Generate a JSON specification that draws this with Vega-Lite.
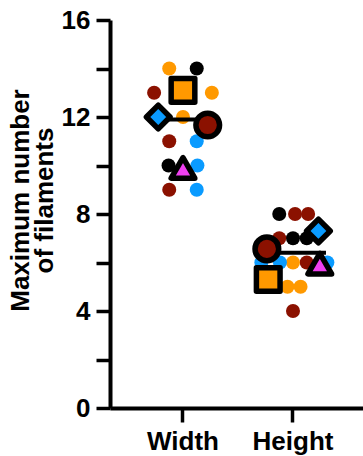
{
  "$schema": "https://vega.github.io/schema/vega-lite/v6.json",
  "width": 253,
  "height": 388,
  "autosize": {"type": "none"},
  "padding": {"left": 110, "top": 20, "right": 0, "bottom": 48},
  "background": "white",
  "config": {
    "view": {"stroke": null},
    "font": "Liberation Sans",
    "axis": {
      "domainColor": "black", "domainWidth": 4, "tickColor": "black", "tickWidth": 3.5,
      "tickSize": 14, "labelFont": "Liberation Sans", "labelFontWeight": "bold", "labelFontSize": 26,
      "labelColor": "black", "titleFont": "Liberation Sans", "titleFontWeight": "bold",
      "titleFontSize": 26, "titleColor": "black", "grid": false
    }
  },
  "datasets": {
    "dots": [
      {"cond": "Width", "rep": "A", "value": 14, "dx": -1},
      {"cond": "Width", "rep": "A", "value": 13, "dx": 2.1},
      {"cond": "Width", "rep": "A", "value": 12, "dx": 0},
      {"cond": "Width", "rep": "B", "value": 14, "dx": 1},
      {"cond": "Width", "rep": "B", "value": 10, "dx": -1.05},
      {"cond": "Width", "rep": "C", "value": 13, "dx": -2.1},
      {"cond": "Width", "rep": "C", "value": 11, "dx": -1},
      {"cond": "Width", "rep": "C", "value": 9, "dx": -1},
      {"cond": "Width", "rep": "D", "value": 11, "dx": 1},
      {"cond": "Width", "rep": "D", "value": 10, "dx": 1.05},
      {"cond": "Width", "rep": "D", "value": 9, "dx": 1},
      {"cond": "Height", "rep": "B", "value": 8, "dx": -1},
      {"cond": "Height", "rep": "B", "value": 7, "dx": 0},
      {"cond": "Height", "rep": "B", "value": 7, "dx": 1},
      {"cond": "Height", "rep": "C", "value": 8, "dx": 0.15},
      {"cond": "Height", "rep": "C", "value": 8, "dx": 1.1},
      {"cond": "Height", "rep": "C", "value": 7, "dx": -1},
      {"cond": "Height", "rep": "C", "value": 6, "dx": 1},
      {"cond": "Height", "rep": "C", "value": 4, "dx": 0},
      {"cond": "Height", "rep": "A", "value": 6, "dx": 0},
      {"cond": "Height", "rep": "A", "value": 5, "dx": -0.4},
      {"cond": "Height", "rep": "A", "value": 5, "dx": 0.55},
      {"cond": "Height", "rep": "D", "value": 6, "dx": -2.3},
      {"cond": "Height", "rep": "D", "value": 6, "dx": -0.95},
      {"cond": "Height", "rep": "D", "value": 6, "dx": 2.5}
    ],
    "means": [
      {"cond": "Width", "rep": "B", "value": 12.0, "dx": -1.8},
      {"cond": "Width", "rep": "A", "value": 13.1, "dx": 0},
      {"cond": "Width", "rep": "D", "value": 9.9, "dx": 0},
      {"cond": "Width", "rep": "C", "value": 11.67, "dx": 1.8},
      {"cond": "Height", "rep": "A", "value": 5.3, "dx": -1.8},
      {"cond": "Height", "rep": "C", "value": 6.56, "dx": -1.9},
      {"cond": "Height", "rep": "B", "value": 7.3, "dx": 1.85},
      {"cond": "Height", "rep": "D", "value": 5.95, "dx": 1.95}
    ],
    "grand": [
      {"cond": "Width", "value": 11.9},
      {"cond": "Height", "value": 6.4}
    ]
  },
  "encoding": {
    "x": {
      "field": "cond", "type": "nominal", "sort": ["Width", "Height"],
      "scale": {"type": "band", "paddingInner": 0, "paddingOuter": 0.15, "align": 0.545},
      "axis": {"title": null, "labelAngle": 0, "labelPadding": 6}
    },
    "y": {
      "field": "value", "type": "quantitative",
      "scale": {"domain": [0, 16], "nice": false, "zero": true},
      "axis": {
        "title": ["Maximum number", "of filaments"],
        "values": [0, 2, 4, 6, 8, 10, 12, 14, 16],
        "labelExpr": "datum.value % 4 === 0 ? datum.label : ''",
        "labelPadding": 6, "titlePadding": 4, "titleLineHeight": 24, "titleY": 180
      }
    }
  },
  "layer": [
    {
      "data": {"name": "dots"},
      "mark": {"type": "point", "shape": "circle", "filled": true, "opacity": 1, "size": 196},
      "encoding": {
        "xOffset": {"field": "dx", "type": "quantitative", "scale": {"domain": [-4, 4], "nice": false, "zero": false}},
        "color": {
          "field": "rep", "type": "nominal",
          "scale": {"domain": ["A", "B", "C", "D"], "range": ["#FF9900", "#000000", "#8B1100", "#0A9BFF"]},
          "legend": null
        }
      }
    },
    {
      "data": {"name": "grand"},
      "mark": {"type": "tick", "color": "black", "thickness": 4, "size": 66, "opacity": 1, "orient": "horizontal"},
      "encoding": {}
    },
    {
      "data": {"name": "means"},
      "mark": {"type": "point", "filled": true, "opacity": 1, "stroke": "black", "strokeWidth": 5.5, "strokeJoin": "round", "size": 560},
      "encoding": {
        "xOffset": {"field": "dx", "type": "quantitative", "scale": {"domain": [-4, 4], "nice": false, "zero": false}},
        "fill": {
          "field": "rep", "type": "nominal",
          "scale": {"domain": ["A", "B", "C", "D"], "range": ["#FF9900", "#0A9BFF", "#8B1100", "#F040F0"]},
          "legend": null
        },
        "shape": {
          "field": "rep", "type": "nominal",
          "scale": {"domain": ["A", "B", "C", "D"], "range": ["square", "diamond", "circle", "triangle-up"]},
          "legend": null
        }
      }
    }
  ]
}
